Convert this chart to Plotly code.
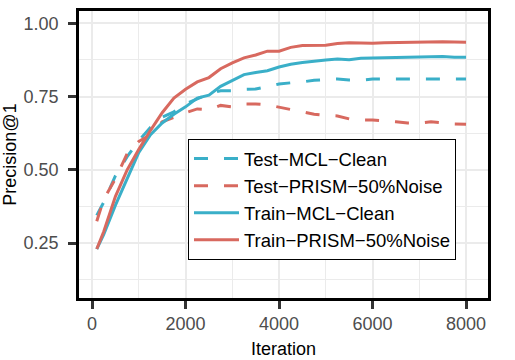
import plotly.graph_objects as go

# iterations shared by all four curves
iterations = [100, 250, 500, 750, 1000, 1250, 1500, 1750, 2000, 2250, 2500, 2750,
              3000, 3250, 3500, 3750, 4000, 4250, 4500, 4750, 5000, 5250, 5500,
              5750, 6000, 6250, 6500, 6750, 7000, 7250, 7500, 7750, 8000]

test_mcl_clean = [0.345, 0.39, 0.48, 0.545, 0.60, 0.645, 0.68, 0.698, 0.725, 0.742, 0.76, 0.770,
                  0.770, 0.775, 0.776, 0.784, 0.793, 0.797, 0.800, 0.806, 0.808, 0.810, 0.807,
                  0.806, 0.810, 0.811, 0.810, 0.810, 0.810, 0.810, 0.809, 0.810, 0.810]

test_prism_noise = [0.325, 0.40, 0.47, 0.555, 0.597, 0.62, 0.664, 0.68, 0.695, 0.708, 0.705, 0.72,
                    0.715, 0.725, 0.725, 0.722, 0.714, 0.705, 0.697, 0.690, 0.686, 0.684, 0.674,
                    0.670, 0.670, 0.668, 0.664, 0.660, 0.660, 0.664, 0.660, 0.657, 0.656]

train_mcl_clean = [0.23, 0.28, 0.38, 0.47, 0.56, 0.62, 0.66, 0.69, 0.715, 0.745, 0.755, 0.785,
                   0.805, 0.825, 0.832, 0.838, 0.851, 0.860, 0.866, 0.871, 0.875, 0.878, 0.876,
                   0.881, 0.882, 0.884, 0.885, 0.886, 0.885, 0.886, 0.887, 0.884, 0.884]

train_prism_noise = [0.23, 0.29, 0.41, 0.50, 0.57, 0.635, 0.695, 0.745, 0.775, 0.800, 0.815, 0.845,
                     0.865, 0.882, 0.892, 0.905, 0.905, 0.918, 0.924, 0.924, 0.925, 0.931, 0.934,
                     0.933, 0.932, 0.934, 0.935, 0.935, 0.936, 0.936, 0.937, 0.936, 0.935]

BLUE = '#3AAFC8'
RED = '#D8695F'
FONT = 'Liberation Sans, Arial, sans-serif'

series = [
    ('Test\u2212MCL\u2212Clean', test_mcl_clean, BLUE, '14px,16px'),
    ('Test\u2212PRISM\u221250%Noise', test_prism_noise, RED, '14px,16px'),
    ('Train\u2212MCL\u2212Clean', train_mcl_clean, BLUE, 'solid'),
    ('Train\u2212PRISM\u221250%Noise', train_prism_noise, RED, 'solid'),
]

fig = go.Figure()
for name, vals, col, dash in series:
    fig.add_trace(go.Scatter(x=iterations, y=vals, mode='lines', name=name,
                             line=dict(color=col, width=3, dash=dash)))

axis_common = dict(
    showline=True, linecolor='black', linewidth=2.5, mirror=True,
    ticks='outside', ticklen=8, tickwidth=2.5, tickcolor='#333333',
    tickfont=dict(size=18, color='#4D4D4D', family=FONT),
    showgrid=True, gridcolor='#EBEBEB', gridwidth=2, zeroline=False,
    automargin=False,
)

fig.update_layout(
    width=515, height=360,
    margin=dict(l=79, r=27, t=11, b=62),
    paper_bgcolor='white', plot_bgcolor='white',
    font=dict(family=FONT, size=18, color='black'),
    xaxis=dict(axis_common, range=[-280, 8470], tick0=0, dtick=2000,
               minor=dict(showgrid=True, gridcolor='#EBEBEB', gridwidth=1, dtick=1000, tick0=0),
               title=dict(text='Iteration', standoff=10, font=dict(size=18, color='black'))),
    yaxis=dict(axis_common, range=[0.063, 1.042], tick0=0, dtick=0.25, tickformat='.2f',
               ticklabelstandoff=6,
               minor=dict(showgrid=True, gridcolor='#EBEBEB', gridwidth=1, dtick=0.125, tick0=0),
               title=dict(text='Precision@1', standoff=6, font=dict(size=18, color='black'))),
    legend=dict(x=0.2665, y=0.343, xanchor='left', yanchor='middle',
                bgcolor='white', bordercolor='black', borderwidth=1,
                font=dict(size=18.5, color='black', family=FONT),
                itemwidth=45, tracegroupgap=0),
    showlegend=True,
)

# drop the default body margin so the figure fills the window
fig.write_html("out.html", config={'displayModeBar': False},
               post_script="document.body.style.margin = '0';")
